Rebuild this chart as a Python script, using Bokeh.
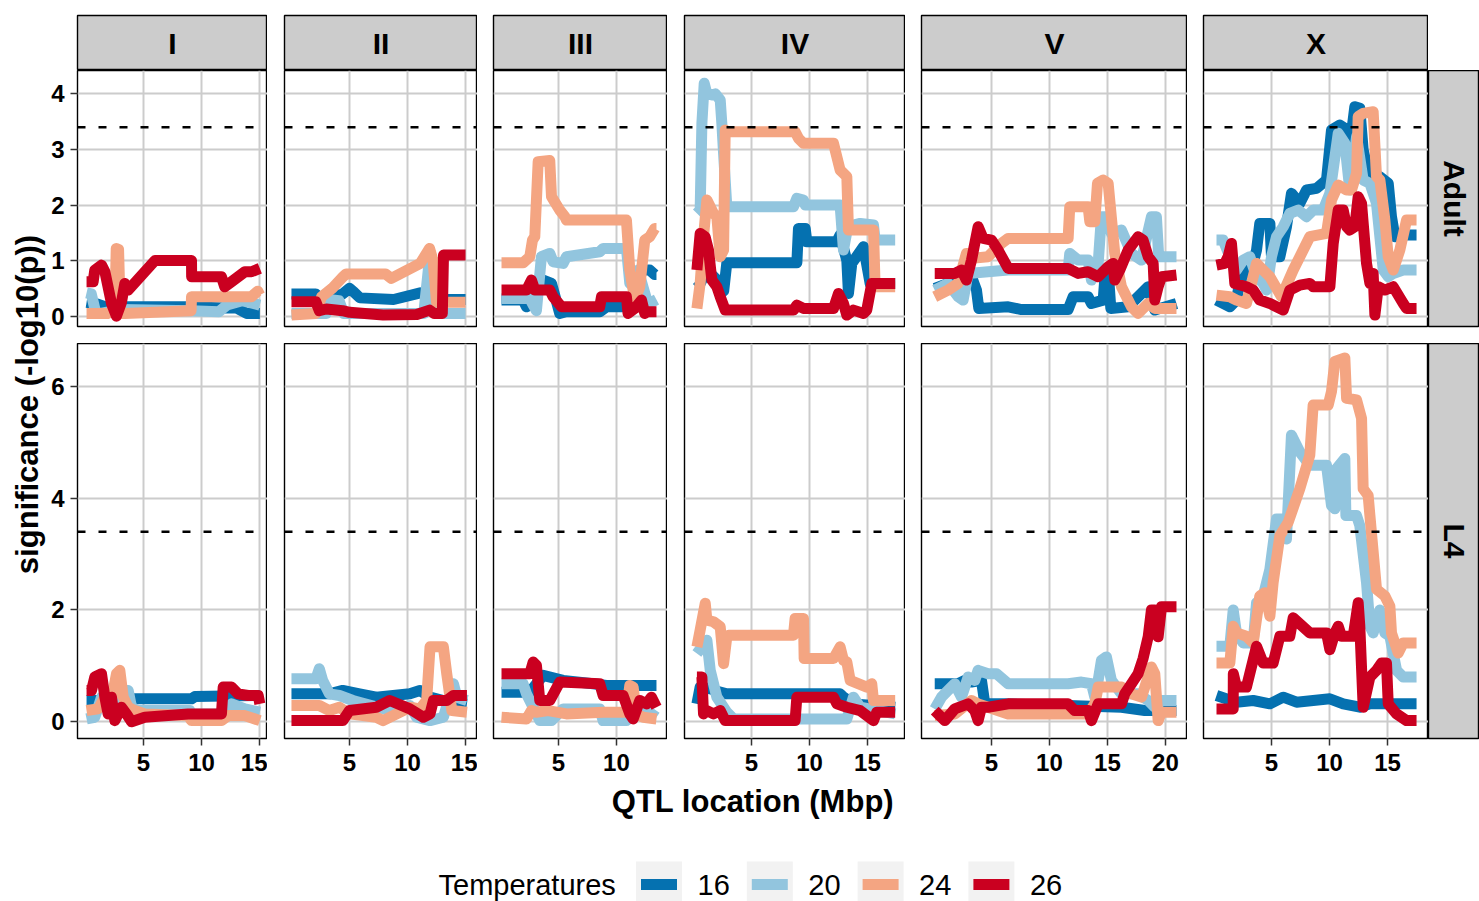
import math
from bokeh.plotting import figure
from bokeh.layouts import row, column, Spacer
from bokeh.models import Range1d, FixedTicker, Span
from bokeh.core.properties import value
from bokeh.embed import file_html
from bokeh.resources import INLINE

# ---------------- categories / styling data ----------------
chromosomes = ["I", "II", "III", "IV", "V", "X"]
stages = ["Adult", "L4"]
temperatures = ["16", "20", "24", "26"]
temp_colors = ["#0571B0", "#92C5DE", "#F4A582", "#CA0020"]
threshold = 3.4

x_limits = {"I": (-0.69, 15.69), "II": (-0.60, 16.03), "III": (-0.60, 14.40),
            "IV": (-0.78, 18.28), "V": (-1.03, 21.90), "X": (-0.86, 18.53)}
x_ticks = {"I": [5, 10, 15], "II": [5, 10, 15], "III": [5, 10],
           "IV": [5, 10, 15], "V": [5, 10, 15, 20], "X": [5, 10, 15]}
y_limits = {"Adult": (-0.185, 4.42), "L4": (-0.30, 6.77)}
y_ticks = {"Adult": [0, 1, 2, 3, 4], "L4": [0, 2, 4, 6]}

# ---------------- series values (x: Mbp, y: -log10 p) ----------------
# Adult, chromosome I
adult_I_16_x = [0.09, 1.0, 2.0, 3.5, 9.0, 12.0, 13.0, 13.9, 15.03]
adult_I_16_y = [0.25, 0.22, 0.15, 0.17, 0.17, 0.15, 0.15, 0.05, 0.05]
adult_I_20_x = [0.09, 0.5, 0.9, 1.3, 3.0, 9.1, 11.5, 12.2, 13.5, 15.03]
adult_I_20_y = [0.42, 0.4, 0.05, 0.05, 0.12, 0.1, 0.08, 0.2, 0.28, 0.2]
adult_I_24_x = [0.09, 1.9, 2.4, 2.55, 2.65, 2.85, 3.0, 3.4, 9.1, 9.14, 14.3, 14.85, 15.03]
adult_I_24_y = [0.05, 0.05, 0.1, 0.3, 1.22, 1.2, 0.05, 0.05, 0.1, 0.35, 0.35, 0.45, 0.38]
adult_I_26_x = [0.09, 0.66, 0.8, 1.38, 1.67, 2.24, 2.67, 3.1, 3.39, 3.68, 5.98, 9.14, 9.15, 11.72, 12.0, 12.59, 13.74, 14.31, 15.03]
adult_I_26_y = [0.62, 0.62, 0.83, 0.92, 0.8, 0.23, 0.0, 0.25, 0.59, 0.47, 1.0, 1.0, 0.71, 0.71, 0.53, 0.62, 0.8, 0.8, 0.86]

# Adult, chromosome II
adult_II_16_x = [0.0, 2.1, 2.5, 4.4, 5.0, 5.3, 5.9, 8.8, 11.1, 11.9, 12.2, 15.0]
adult_II_16_y = [0.4, 0.4, 0.3, 0.4, 0.5, 0.45, 0.33, 0.3, 0.42, 0.4, 0.3, 0.3]
adult_II_20_x = [0.0, 3.0, 3.2, 4.1, 4.5, 11.4, 11.9, 12.2, 12.4, 12.8, 15.0]
adult_II_20_y = [0.05, 0.05, 0.3, 0.28, 0.05, 0.05, 1.05, 1.0, 0.1, 0.05, 0.05]
adult_II_24_x = [0.0, 2.1, 2.6, 3.5, 4.4, 4.7, 8.1, 8.6, 11.1, 11.9, 12.2, 12.5, 15.0]
adult_II_24_y = [0.02, 0.05, 0.35, 0.5, 0.7, 0.76, 0.76, 0.68, 0.95, 1.22, 1.0, 0.25, 0.25]
adult_II_26_x = [0.0, 2.1, 2.4, 3.0, 4.4, 5.0, 7.9, 10.8, 11.9, 12.3, 13.0, 13.1, 15.0]
adult_II_26_y = [0.26, 0.26, 0.1, 0.13, 0.1, 0.07, 0.02, 0.03, 0.11, 0.05, 0.05, 1.1, 1.1]

# Adult, chromosome III
adult_III_16_x = [0.09, 1.95, 2.24, 2.82, 3.68, 4.4, 5.11, 5.69, 8.56, 9.14, 10.86, 11.72, 12.01, 12.87, 13.3, 13.45]
adult_III_16_y = [0.29, 0.29, 0.17, 0.23, 0.65, 0.59, 0.05, 0.08, 0.08, 0.17, 0.17, 0.29, 0.83, 0.83, 0.75, 0.75]
adult_III_20_x = [0.09, 2.53, 2.82, 3.1, 3.53, 4.25, 4.54, 5.4, 5.69, 8.56, 8.85, 10.86, 11.15, 11.58, 11.87, 12.6, 13.0, 13.45]
adult_III_20_y = [0.32, 0.32, 0.2, 0.1, 1.07, 1.13, 0.98, 0.95, 1.07, 1.16, 1.22, 1.22, 0.59, 0.53, 0.83, 0.3, 0.25, 0.3]
adult_III_24_x = [0.09, 1.95, 2.53, 2.76, 2.96, 3.25, 4.25, 4.4, 5.11, 5.55, 5.69, 10.86, 11.15, 11.58, 12.01, 12.44, 12.87, 13.3, 13.45]
adult_III_24_y = [0.96, 0.96, 1.07, 1.37, 1.43, 2.78, 2.8, 2.15, 1.91, 1.79, 1.73, 1.73, 0.83, 0.29, 0.53, 1.37, 1.43, 1.58, 1.58]
adult_III_26_x = [0.09, 2.24, 2.67, 2.96, 3.53, 4.25, 4.54, 5.26, 8.56, 8.71, 10.86, 11.0, 11.58, 12.16, 12.44, 12.59, 13.45]
adult_III_26_y = [0.47, 0.47, 0.65, 0.47, 0.47, 0.47, 0.35, 0.17, 0.17, 0.35, 0.35, 0.05, 0.14, 0.29, 0.05, 0.08, 0.08]

# Adult, chromosome IV
adult_IV_16_x = [0.29, 0.57, 1.15, 2.3, 2.6, 2.87, 8.91, 9.05, 9.63, 9.77, 12.35, 12.64, 13.22, 13.36, 13.65, 14.66, 15.23, 17.39]
adult_IV_16_y = [0.65, 0.59, 0.83, 0.6, 0.45, 0.96, 0.96, 1.58, 1.58, 1.34, 1.34, 1.46, 1.0, 0.41, 0.95, 1.25, 0.59, 0.59]
adult_IV_20_x = [0.29, 0.57, 0.72, 0.92, 1.15, 1.58, 1.87, 2.3, 2.44, 2.59, 2.87, 8.62, 8.91, 9.48, 9.63, 12.64, 12.93, 13.22, 13.79, 14.37, 15.52, 15.66, 17.39]
adult_IV_20_y = [1.85, 1.91, 3.47, 4.19, 4.0, 3.98, 4.0, 3.89, 3.47, 2.93, 1.97, 1.97, 2.12, 2.09, 2.0, 2.0, 1.19, 1.52, 1.64, 1.67, 1.64, 1.37, 1.37]
adult_IV_24_x = [0.29, 0.57, 0.86, 1.15, 1.44, 1.72, 2.01, 2.3, 2.59, 2.73, 2.87, 8.76, 9.05, 9.48, 12.07, 12.64, 13.22, 13.36, 15.52, 15.66, 17.39]
adult_IV_24_y = [0.14, 0.59, 1.43, 2.09, 1.97, 1.85, 1.79, 1.07, 1.19, 3.35, 3.32, 3.32, 3.2, 3.11, 3.11, 2.63, 2.51, 1.55, 1.55, 0.53, 0.53]
adult_IV_26_x = [0.29, 0.57, 1.0, 1.29, 1.58, 2.01, 2.3, 2.73, 8.62, 8.91, 9.48, 12.07, 12.5, 12.93, 13.22, 13.79, 14.66, 14.94, 15.37, 17.39]
adult_IV_26_y = [0.83, 1.49, 1.43, 1.19, 0.65, 0.53, 0.35, 0.11, 0.11, 0.2, 0.14, 0.14, 0.41, 0.23, 0.02, 0.11, 0.05, 0.11, 0.59, 0.59]

# Adult, chromosome V
adult_V_16_x = [0.11, 1.26, 2.41, 3.28, 3.71, 3.91, 6.44, 7.59, 11.61, 12.04, 13.33, 13.62, 14.63, 14.83, 15.06, 15.29, 16.78, 18.51, 19.08, 20.95]
adult_V_16_y = [0.5, 0.59, 0.65, 0.71, 0.47, 0.14, 0.17, 0.12, 0.12, 0.35, 0.35, 0.23, 0.29, 0.83, 0.83, 0.14, 0.17, 0.53, 0.11, 0.23]
adult_V_20_x = [0.11, 1.26, 2.13, 2.56, 2.99, 4.71, 6.44, 11.61, 11.75, 12.47, 13.33, 13.62, 14.2, 14.48, 14.91, 15.34, 16.21, 17.07, 17.93, 18.79, 19.22, 19.42, 20.95]
adult_V_20_y = [0.47, 0.59, 0.35, 0.29, 0.77, 0.8, 0.83, 0.83, 1.13, 1.01, 1.01, 0.65, 0.95, 1.79, 1.79, 1.49, 1.55, 1.13, 1.01, 1.79, 1.79, 1.07, 1.07]
adult_V_24_x = [0.11, 1.26, 2.13, 2.84, 3.28, 4.71, 5.86, 6.44, 11.61, 11.75, 13.33, 13.48, 13.91, 14.14, 14.63, 15.06, 15.63, 16.21, 17.07, 17.64, 18.51, 19.08, 20.95]
adult_V_24_y = [0.35, 0.47, 0.59, 1.13, 1.04, 1.07, 1.31, 1.4, 1.4, 1.97, 1.97, 1.7, 1.7, 2.39, 2.45, 2.39, 1.13, 0.53, 0.17, 0.05, 0.23, 0.14, 0.14]
adult_V_26_x = [0.11, 1.84, 2.41, 2.84, 3.28, 3.85, 4.28, 5.0, 5.57, 6.44, 11.61, 11.9, 12.47, 13.33, 14.2, 14.77, 15.06, 15.49, 15.63, 16.06, 16.78, 17.64, 18.07, 18.51, 18.94, 19.08, 19.37, 19.66, 20.95]
adult_V_26_y = [0.77, 0.77, 0.83, 0.65, 1.01, 1.61, 1.4, 1.37, 1.19, 0.86, 0.86, 0.83, 0.77, 0.8, 0.71, 0.83, 0.89, 0.95, 0.65, 0.83, 1.19, 1.43, 1.37, 1.07, 0.95, 0.29, 0.53, 0.71, 0.74]

# Adult, chromosome X
adult_X_16_x = [0.26, 1.12, 1.41, 1.98, 2.56, 3.13, 3.71, 3.99, 4.86, 5.0, 5.72, 6.29, 6.72, 7.44, 8.02, 8.88, 9.74, 10.17, 10.89, 11.32, 11.75, 12.18, 12.61, 12.9, 13.48, 14.34, 15.06, 15.34, 15.63, 16.06, 17.5]
adult_X_16_y = [0.29, 0.2, 0.17, 0.29, 0.95, 0.71, 1.19, 1.67, 1.67, 1.07, 1.07, 1.61, 2.21, 2.03, 2.27, 2.3, 2.45, 3.35, 3.44, 3.38, 3.05, 3.77, 3.74, 2.99, 2.45, 2.51, 2.39, 1.79, 1.43, 1.46, 1.46]
adult_X_20_x = [0.26, 0.83, 1.41, 1.98, 2.56, 3.13, 3.71, 4.28, 4.57, 5.0, 5.43, 6.01, 6.58, 7.3, 8.02, 8.59, 9.45, 10.03, 10.75, 11.32, 11.75, 12.33, 12.9, 13.48, 14.05, 14.63, 15.06, 15.49, 16.35, 17.5]
adult_X_20_y = [1.37, 1.37, 1.07, 0.83, 1.01, 1.07, 0.71, 0.59, 0.47, 1.07, 1.43, 1.61, 1.85, 1.91, 1.79, 1.91, 1.91, 2.21, 3.29, 3.11, 2.27, 3.23, 2.45, 2.39, 2.03, 0.83, 0.71, 0.77, 0.83, 0.83]
adult_X_24_x = [0.26, 1.41, 1.98, 2.84, 3.71, 4.28, 4.86, 5.86, 6.87, 7.73, 8.3, 9.74, 10.17, 10.75, 11.47, 11.9, 12.33, 12.47, 12.9, 13.76, 14.05, 14.34, 14.77, 15.06, 15.49, 16.06, 16.64, 17.5]
adult_X_24_y = [0.38, 0.35, 0.29, 0.23, 0.95, 0.83, 0.71, 0.35, 0.83, 1.19, 1.43, 1.49, 2.09, 2.36, 2.27, 2.27, 2.57, 3.59, 3.65, 3.68, 2.51, 2.45, 1.73, 1.07, 0.83, 1.19, 1.73, 1.73]
adult_X_26_x = [0.26, 0.98, 1.26, 1.55, 1.84, 2.84, 3.42, 3.99, 4.86, 6.01, 6.58, 7.44, 8.3, 8.59, 10.03, 10.32, 10.75, 11.18, 11.47, 11.75, 12.18, 12.47, 12.76, 13.19, 13.48, 13.76, 13.91, 14.2, 14.77, 15.49, 16.35, 16.64, 17.5]
adult_X_26_y = [0.92, 0.95, 1.07, 1.31, 0.59, 0.53, 0.47, 0.29, 0.23, 0.11, 0.47, 0.56, 0.59, 0.53, 0.53, 1.31, 1.91, 1.91, 1.61, 1.55, 1.61, 2.15, 2.03, 0.95, 0.59, 0.77, 0.02, 0.53, 0.47, 0.53, 0.23, 0.14, 0.14]

# L4, chromosome I
l4_I_16_x = [0.09, 2.24, 3.68, 9.14, 9.43, 15.03]
l4_I_16_y = [0.38, 0.38, 0.41, 0.41, 0.45, 0.47]
l4_I_20_x = [0.09, 0.8, 1.38, 2.24, 3.1, 3.68, 3.97, 4.54, 9.0, 9.14, 11.72, 12.59, 13.74, 15.03]
l4_I_20_y = [0.05, 0.08, 0.44, 0.5, 0.38, 0.56, 0.26, 0.2, 0.2, 0.14, 0.14, 0.32, 0.23, 0.17]
l4_I_24_x = [0.09, 1.09, 1.67, 2.24, 2.67, 2.96, 3.25, 3.68, 4.25, 5.11, 8.85, 9.14, 11.72, 12.3, 13.74, 15.03]
l4_I_24_y = [0.2, 0.23, 0.44, 0.38, 0.86, 0.92, 0.44, 0.26, 0.2, 0.14, 0.11, 0.02, 0.02, 0.11, 0.11, 0.02]
l4_I_26_x = [0.09, 0.52, 0.8, 1.38, 1.67, 1.95, 2.24, 2.53, 3.1, 3.53, 3.97, 5.11, 8.85, 11.72, 11.87, 12.59, 13.16, 14.02, 14.89, 15.03]
l4_I_26_y = [0.56, 0.56, 0.8, 0.86, 0.44, 0.14, 0.44, 0.02, 0.26, 0.14, 0.0, 0.08, 0.14, 0.14, 0.62, 0.62, 0.5, 0.47, 0.47, 0.32]

# L4, chromosome II
l4_II_16_x = [0.0, 3.27, 4.42, 5.87, 7.31, 8.76, 10.2, 11.07, 11.94, 13.09, 15.12]
l4_II_16_y = [0.5, 0.5, 0.56, 0.5, 0.44, 0.47, 0.5, 0.56, 0.44, 0.38, 0.32]
l4_II_20_x = [0.0, 2.11, 2.4, 2.69, 3.27, 4.13, 5.29, 8.47, 10.2, 10.78, 11.94, 13.09, 13.96, 14.25, 15.12]
l4_II_20_y = [0.77, 0.77, 0.95, 0.74, 0.5, 0.47, 0.38, 0.2, 0.29, 0.08, 0.02, 0.08, 0.68, 0.44, 0.38]
l4_II_24_x = [0.0, 2.4, 3.27, 4.13, 5.0, 7.31, 7.89, 8.76, 10.2, 11.07, 11.65, 11.94, 13.09, 13.38, 13.82, 15.12]
l4_II_24_y = [0.29, 0.29, 0.2, 0.26, 0.14, 0.08, 0.02, 0.11, 0.26, 0.23, 0.38, 1.34, 1.34, 0.86, 0.2, 0.17]
l4_II_26_x = [0.0, 4.42, 5.0, 7.31, 8.47, 10.2, 11.36, 11.94, 12.23, 13.38, 13.96, 15.12]
l4_II_26_y = [0.02, 0.02, 0.2, 0.26, 0.38, 0.23, 0.08, 0.14, 0.38, 0.38, 0.47, 0.47]

# L4, chromosome III
l4_III_16_x = [0.09, 2.53, 3.68, 5.4, 7.99, 9.14, 13.45]
l4_III_16_y = [0.53, 0.53, 0.83, 0.74, 0.68, 0.65, 0.65]
l4_III_20_x = [0.09, 1.95, 2.24, 3.1, 3.39, 4.4, 5.4, 8.56, 8.85, 10.86, 11.44, 12.59, 13.45]
l4_III_20_y = [0.68, 0.68, 0.5, 0.14, 0.02, 0.02, 0.23, 0.23, 0.02, 0.02, 0.14, 0.2, 0.08]
l4_III_24_x = [0.09, 2.24, 2.67, 3.1, 4.11, 5.69, 8.85, 10.86, 11.15, 11.44, 11.72, 12.3, 13.45]
l4_III_24_y = [0.08, 0.05, 0.2, 0.17, 0.2, 0.14, 0.17, 0.17, 0.65, 0.62, 0.14, 0.08, 0.05]
l4_III_26_x = [0.09, 2.53, 2.82, 3.1, 3.39, 4.25, 5.11, 8.56, 8.85, 10.57, 11.15, 11.44, 12.01, 12.59, 13.02, 13.45]
l4_III_26_y = [0.86, 0.86, 1.07, 1.01, 0.38, 0.38, 0.71, 0.68, 0.47, 0.47, 0.14, 0.05, 0.38, 0.32, 0.44, 0.26]

# L4, chromosome IV
l4_IV_16_x = [0.29, 0.57, 1.44, 2.3, 2.87, 12.64, 12.93, 13.79, 17.39]
l4_IV_16_y = [0.32, 0.62, 0.59, 0.53, 0.5, 0.5, 0.44, 0.32, 0.26]
l4_IV_20_x = [0.29, 1.15, 1.44, 2.01, 2.59, 2.87, 3.45, 13.22, 13.79, 14.37, 17.39]
l4_IV_20_y = [1.22, 1.46, 0.92, 0.44, 0.26, 0.17, 0.05, 0.05, 0.44, 0.26, 0.14]
l4_IV_24_x = [0.29, 0.57, 1.01, 1.15, 1.72, 2.3, 2.59, 2.87, 3.02, 8.62, 8.76, 9.48, 9.54, 12.07, 12.64, 12.93, 13.22, 13.51, 14.94, 15.37, 15.52, 17.39]
l4_IV_24_y = [1.34, 1.64, 2.12, 1.82, 1.79, 1.7, 1.04, 1.52, 1.55, 1.55, 1.85, 1.85, 1.13, 1.13, 1.34, 1.1, 1.07, 0.74, 0.62, 0.68, 0.38, 0.38]
l4_IV_26_x = [0.29, 0.72, 0.86, 1.15, 1.72, 2.3, 2.73, 8.76, 8.91, 12.07, 12.36, 13.22, 14.37, 15.52, 15.8, 17.39]
l4_IV_26_y = [0.8, 0.8, 0.14, 0.2, 0.14, 0.2, 0.02, 0.02, 0.44, 0.44, 0.32, 0.26, 0.2, 0.02, 0.17, 0.17]

# L4, chromosome V
l4_V_16_x = [0.11, 2.13, 2.7, 3.28, 4.14, 4.43, 6.15, 11.61, 16.21, 18.22, 20.95]
l4_V_16_y = [0.68, 0.68, 0.74, 0.71, 0.74, 0.32, 0.32, 0.29, 0.26, 0.2, 0.2]
l4_V_20_x = [0.11, 0.69, 1.26, 1.84, 2.41, 2.99, 3.56, 3.85, 4.71, 5.43, 6.44, 11.61, 12.76, 13.62, 13.91, 14.2, 14.48, 14.91, 15.34, 15.78, 16.21, 17.64, 18.51, 19.08, 19.66, 20.95]
l4_V_20_y = [0.23, 0.44, 0.56, 0.68, 0.44, 0.8, 0.74, 0.92, 0.86, 0.86, 0.68, 0.68, 0.71, 0.68, 0.44, 0.74, 1.1, 1.16, 0.74, 0.62, 0.5, 0.5, 0.38, 0.26, 0.38, 0.38]
l4_V_24_x = [0.11, 1.84, 3.28, 3.85, 4.71, 6.44, 13.33, 13.91, 14.2, 16.21, 17.07, 17.93, 18.79, 19.08, 19.37, 19.66, 20.95]
l4_V_24_y = [0.11, 0.14, 0.38, 0.32, 0.26, 0.14, 0.14, 0.32, 0.62, 0.62, 0.5, 0.44, 0.98, 0.86, 0.02, 0.17, 0.17]
l4_V_26_x = [0.11, 0.98, 1.84, 2.99, 3.56, 3.85, 4.14, 4.71, 6.44, 11.61, 12.18, 13.33, 13.62, 14.2, 15.06, 16.21, 16.49, 17.07, 17.64, 18.07, 18.51, 18.79, 19.08, 19.37, 19.66, 20.95]
l4_V_26_y = [0.2, 0.02, 0.23, 0.32, 0.2, 0.02, 0.26, 0.26, 0.32, 0.32, 0.2, 0.2, 0.02, 0.32, 0.32, 0.32, 0.5, 0.68, 0.86, 1.13, 1.52, 2.0, 2.0, 1.52, 2.06, 2.06]

# L4, chromosome X
l4_X_16_x = [0.26, 1.98, 3.42, 4.86, 6.01, 7.16, 8.59, 10.03, 11.18, 12.61, 13.48, 17.5]
l4_X_16_y = [0.47, 0.35, 0.38, 0.32, 0.44, 0.35, 0.38, 0.41, 0.32, 0.26, 0.32, 0.32]
l4_X_20_x = [0.26, 1.41, 1.7, 1.98, 2.56, 3.42, 3.71, 4.14, 4.86, 5.43, 6.01, 6.29, 6.72, 7.44, 8.3, 9.74, 10.17, 10.46, 10.6, 11.32, 11.41, 12.33, 12.61, 13.19, 13.48, 13.76, 14.34, 14.77, 15.2, 15.78, 16.35, 17.5]
l4_X_20_y = [1.35, 1.35, 2.0, 1.59, 1.41, 1.41, 2.13, 2.13, 2.73, 3.63, 3.63, 3.27, 5.13, 4.83, 4.59, 4.59, 3.87, 3.81, 4.53, 4.71, 3.69, 3.69, 3.51, 2.49, 1.71, 1.59, 2.0, 1.59, 1.53, 0.92, 0.8, 0.8]
l4_X_24_x = [0.26, 1.41, 1.7, 1.98, 2.84, 3.42, 3.99, 4.43, 4.86, 5.14, 5.72, 6.44, 7.44, 8.3, 8.59, 9.89, 10.17, 10.46, 11.32, 11.47, 12.33, 12.76, 12.9, 13.33, 13.48, 14.05, 14.77, 15.2, 15.34, 15.92, 16.35, 17.5]
l4_X_24_y = [1.05, 1.05, 1.71, 1.59, 1.53, 1.41, 2.25, 2.31, 1.89, 2.49, 3.33, 3.57, 4.17, 4.77, 5.67, 5.67, 5.91, 6.45, 6.51, 5.79, 5.76, 5.43, 4.17, 4.05, 3.69, 2.37, 2.25, 2.07, 1.59, 1.23, 1.41, 1.41]
l4_X_26_x = [0.26, 1.70, 1.71, 1.98, 2.84, 3.71, 4.28, 5.14, 5.72, 6.58, 6.87, 8.3, 9.74, 10.03, 10.46, 10.75, 11.03, 12.04, 12.47, 12.61, 12.9, 13.48, 14.05, 14.48, 14.91, 15.06, 15.78, 16.64, 17.5]
l4_X_26_y = [0.23, 0.23, 0.86, 0.62, 0.62, 1.35, 1.05, 1.05, 1.53, 1.53, 1.86, 1.59, 1.59, 1.29, 1.59, 1.71, 1.53, 1.53, 2.13, 1.71, 0.26, 0.8, 0.92, 1.05, 1.05, 0.32, 0.14, 0.02, 0.02]

# ---------------- layout constants ----------------
FONT = "Liberation Sans"
PX_PER_MBP = 11.6
ROW_H = {"Adult": 256, "L4": 395}
ROW_GAP_BELOW = {"Adult": 17, "L4": 44}
COL_GAP_LEFT = [29, 17, 16, 17, 16, 16]
YTITLE_W = 48
STRIP_H = 55
TOP_MARGIN = 15
RIGHT_STRIP_W = 51
WIN_W, WIN_H = 1479, 901
XTITLE_PAGE_Y = 801
LEGEND_PAGE_Y = 884
LINE_W = 11


def series(stage, chrom, temp):
    prefix = "adult" if stage == "Adult" else "l4"
    g = globals()
    return g[f"{prefix}_{chrom}_{temp}_x"], g[f"{prefix}_{chrom}_{temp}_y"]


def frame_w(chrom):
    lo, hi = x_limits[chrom]
    return int(round((hi - lo) * PX_PER_MBP))


def bare(fig):
    fig.grid.visible = False
    fig.outline_line_color = None
    fig.background_fill_color = "white"
    fig.border_fill_color = "white"
    return fig


def make_panel(stage, chrom, ci):
    p = figure(frame_width=frame_w(chrom), frame_height=ROW_H[stage],
               x_range=Range1d(*x_limits[chrom]), y_range=Range1d(*y_limits[stage]),
               x_axis_location="below" if stage == "L4" else None,
               y_axis_location="left" if ci == 0 else None,
               toolbar_location=None, output_backend="svg", min_border=0)
    p.min_border_left = COL_GAP_LEFT[ci]
    p.min_border_right = 0
    p.min_border_top = 0
    p.min_border_bottom = ROW_GAP_BELOW[stage]
    p.background_fill_color = "white"
    p.border_fill_color = "white"
    p.outline_line_color = "black"
    p.outline_line_width = 1.4

    p.xgrid.ticker = FixedTicker(ticks=x_ticks[chrom])
    p.ygrid.ticker = FixedTicker(ticks=y_ticks[stage])
    p.grid.grid_line_color = "#CCCCCC"
    p.grid.grid_line_width = 2
    p.grid.minor_grid_line_color = None

    for ax in list(p.xaxis) + list(p.yaxis):
        ax.major_label_text_font = FONT
        ax.major_label_text_font_style = "bold"
        ax.major_label_text_font_size = "24px"
        ax.major_label_text_color = "black"
        ax.major_tick_in = 0
        ax.major_tick_out = 7
        ax.minor_tick_in = 0
        ax.minor_tick_out = 0
        ax.major_tick_line_color = "#333333"
        ax.major_tick_line_width = 1.5
        ax.axis_line_color = None
    for ax in p.xaxis:
        ax.ticker = FixedTicker(ticks=x_ticks[chrom])
        ax.major_label_standoff = 8
    for ax in p.yaxis:
        ax.ticker = FixedTicker(ticks=y_ticks[stage])
        ax.major_label_standoff = 6

    p.add_layout(Span(location=threshold, dimension="width", line_color="black",
                      line_width=2.5, line_dash="8 13"))

    for temp, col in zip(temperatures, temp_colors):
        xs, ys = series(stage, chrom, temp)
        p.line(xs, ys, line_color=col, line_width=LINE_W, line_join="round", line_cap="butt")
    return p


def make_top_strip(chrom, ci):
    s = figure(frame_width=frame_w(chrom), frame_height=STRIP_H,
               x_range=Range1d(0, 1), y_range=Range1d(0, 1),
               x_axis_location=None, y_axis_location=None,
               toolbar_location=None, output_backend="svg", min_border=0)
    bare(s)
    s.min_border_left = COL_GAP_LEFT[ci]
    s.min_border_top = TOP_MARGIN
    s.background_fill_color = "#CCCCCC"
    s.outline_line_color = "black"
    s.outline_line_width = 1.4
    s.text(x=[0.5], y=[0.5], text=[chrom], text_align="center", text_baseline="middle",
           text_font=value(FONT), text_font_style="bold", text_font_size="30px",
           text_color="black")
    return s


def make_side_strip(stage):
    s = figure(frame_width=RIGHT_STRIP_W, frame_height=ROW_H[stage],
               x_range=Range1d(0, 1), y_range=Range1d(0, 1),
               x_axis_location=None, y_axis_location=None,
               toolbar_location=None, output_backend="svg", min_border=0)
    bare(s)
    s.min_border_bottom = ROW_GAP_BELOW[stage]
    s.background_fill_color = "#CCCCCC"
    s.outline_line_color = "black"
    s.outline_line_width = 1.4
    s.text(x=[0.5], y=[0.5], text=[stage], angle=-math.pi / 2,
           text_align="center", text_baseline="middle",
           text_font=value(FONT), text_font_style="bold", text_font_size="30px",
           text_color="black")
    return s


# ---------------- assemble ----------------
upper_h = TOP_MARGIN + STRIP_H + ROW_H["Adult"] + ROW_GAP_BELOW["Adult"] + ROW_H["L4"] + ROW_GAP_BELOW["L4"]

ytitle = figure(width=YTITLE_W, height=upper_h, x_range=Range1d(0, YTITLE_W),
                y_range=Range1d(0, upper_h), x_axis_location=None, y_axis_location=None,
                toolbar_location=None, output_backend="svg", min_border=0)
bare(ytitle)
panels_mid = (TOP_MARGIN + STRIP_H + upper_h - ROW_GAP_BELOW["L4"]) / 2.0
ytitle.text(x=[27], y=[upper_h - panels_mid], text=["significance (-log10(p))"], angle=math.pi / 2,
            text_align="center", text_baseline="middle", text_font=value(FONT),
            text_font_style="bold", text_font_size="31px", text_color="black")

columns = [ytitle]
for ci, chrom in enumerate(chromosomes):
    columns.append(column(make_top_strip(chrom, ci),
                          make_panel("Adult", chrom, ci),
                          make_panel("L4", chrom, ci), spacing=0))
columns.append(column(Spacer(width=RIGHT_STRIP_W, height=TOP_MARGIN + STRIP_H),
                      make_side_strip("Adult"), make_side_strip("L4"), spacing=0))
upper = row(*columns, spacing=0)

bottom_h = WIN_H - upper_h
bottom = figure(width=WIN_W, height=bottom_h, x_range=Range1d(0, WIN_W), y_range=Range1d(0, bottom_h),
                x_axis_location=None, y_axis_location=None, toolbar_location=None,
                output_backend="svg", min_border=0)
bare(bottom)
panel_left = YTITLE_W + COL_GAP_LEFT[0]
panel_right = WIN_W - RIGHT_STRIP_W
bottom.text(x=[(panel_left + panel_right) / 2.0], y=[WIN_H - XTITLE_PAGE_Y], text=["QTL location (Mbp)"],
            text_align="center", text_baseline="middle", text_font=value(FONT),
            text_font_style="bold", text_font_size="31px", text_color="black")

legend_y = WIN_H - LEGEND_PAGE_Y
bottom.text(x=[438], y=[legend_y], text=["Temperatures"], text_align="left", text_baseline="middle",
            text_font=value(FONT), text_font_size="29px", text_color="black")
key_x0, key_step, key_size = 658.5, 110.8, 46
key_xs = [key_x0 + i * key_step for i in range(len(temperatures))]
bottom.rect(x=key_xs, y=[legend_y] * len(key_xs), width=key_size, height=key_size,
            fill_color="#F2F2F2", line_color=None)
bottom.segment(x0=[k - 18 for k in key_xs], y0=[legend_y] * len(key_xs),
               x1=[k + 18 for k in key_xs], y1=[legend_y] * len(key_xs),
               line_color=temp_colors, line_width=LINE_W)
bottom.text(x=[k + 38.5 for k in key_xs], y=[legend_y] * len(key_xs), text=temperatures,
            text_align="left", text_baseline="middle", text_font=value(FONT),
            text_font_size="29px", text_color="black")

layout = column(upper, bottom, spacing=0)
open("out.html", "w").write(file_html(layout, INLINE))
